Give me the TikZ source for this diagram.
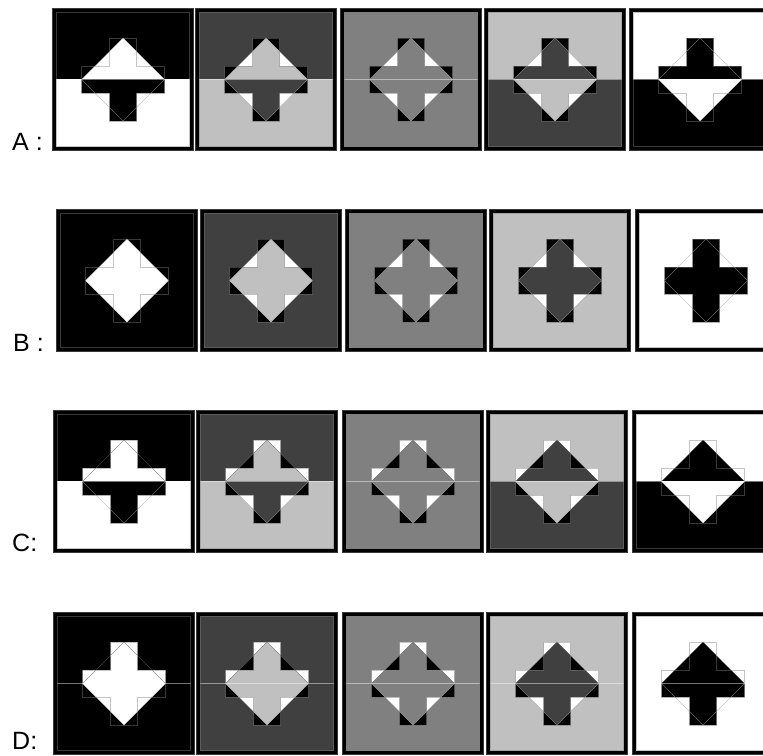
\documentclass[tikz,border=0pt]{standalone}
\usepackage{fontspec}
\setmainfont{Liberation Sans}
\definecolor{g0}{HTML}{000000}
\definecolor{g1}{HTML}{404040}
\definecolor{g2}{HTML}{808080}
\definecolor{g3}{HTML}{C0C0C0}
\definecolor{g4}{HTML}{FFFFFF}
\definecolor{outlc}{HTML}{808080}
\def\crosspath{(57.5,30) -- (84.5,30) -- (84.5,58) -- (112.5,58) -- (112.5,85) -- (84.5,85) -- (84.5,113) -- (57.5,113) -- (57.5,85) -- (29.5,85) -- (29.5,58) -- (57.5,58) -- cycle}
\def\diampath{(71,30) -- (112.5,71.5) -- (71,113) -- (29.5,71.5) -- cycle}
% one half of a panel: #1 x, #2 y, #3 0=top 1=bottom, #4 bg, #5 overlap, #6 tips, #7 concave
\newcommand{\halfpanel}[7]{%
  \begin{scope}[shift={(#1,#2)}]
    \clip (0,{#3*71.5}) rectangle (142,{71.5+#3*71.5});
    \fill[#4] (0,0) rectangle (142,143);
    \fill[#6] \crosspath;
    \fill[#7] \diampath;
    \begin{scope}
      \clip \crosspath;
      \fill[#5] \diampath;
    \end{scope}
  \end{scope}}
% outlines and frame: #1 x, #2 y, #3 midline flag
\newcommand{\pframe}[3]{%
  \begin{scope}[shift={(#1,#2)}]
    \draw[outl] \crosspath;
    \draw[outl] \diampath;
    \ifnum#3=1 \draw[midl] (4,71.5) -- (138,71.5);\fi
    \draw[black, line width=4pt] (2,2) rectangle (140,141);
    \draw[edgel] (0.3,0.3) rectangle (141.7,142.7);
    \draw[edgel] (4.3,4.3) rectangle (137.7,138.7);
  \end{scope}}
% full panel: #1 x, #2 y, #3 top bg, #4 top overlap, #5 bottom bg, #6 bottom overlap, #7 top tips, #8 top concave, #9 midline
\newcommand{\sq}[9]{%
  \halfpanel{#1}{#2}{0}{#3}{#4}{#7}{#8}
  \halfpanel{#1}{#2}{1}{#5}{#6}{black}{white}
  \pframe{#1}{#2}{#9}}
\begin{document}
\begin{tikzpicture}[x=1pt,y=-1pt,
  outl/.style={draw=outlc, draw opacity=0.45, line width=0.6pt},
  edgel/.style={draw=outlc, draw opacity=0.45, line width=0.7pt},
  midl/.style={draw=white, draw opacity=0.45, line width=0.7pt},
  lab/.style={anchor=base west, inner sep=0pt, font=\fontsize{25}{28}\selectfont}]
\useasboundingbox (0,0) rectangle (763,755);
\fill[white] (0,0) rectangle (763,755);
\clip (0,0) rectangle (763,755);
% Row A
\sq{52}{8}{g0}{g4}{g4}{g0}{black}{white}{1}
\sq{195}{8}{g1}{g3}{g3}{g1}{black}{white}{1}
\sq{340}{8}{g2}{g2}{g2}{g2}{black}{white}{1}
\sq{484}{8}{g3}{g1}{g1}{g3}{black}{white}{1}
\sq{629}{8}{g4}{g0}{g0}{g4}{black}{white}{1}
% Row B
\sq{56}{209}{g0}{g4}{g0}{g4}{black}{white}{0}
\sq{200}{209}{g1}{g3}{g1}{g3}{black}{white}{0}
\sq{345}{209}{g2}{g2}{g2}{g2}{black}{white}{0}
\sq{489}{209}{g3}{g1}{g3}{g1}{black}{white}{0}
\sq{635}{209}{g4}{g0}{g4}{g0}{black}{white}{0}
% Row C
\sq{53}{410}{g0}{g4}{g4}{g0}{white}{black}{1}
\sq{196}{410}{g1}{g3}{g3}{g1}{white}{black}{1}
\sq{342}{410}{g2}{g2}{g2}{g2}{white}{black}{1}
\sq{486}{410}{g3}{g1}{g1}{g3}{white}{black}{1}
\sq{632}{410}{g4}{g0}{g0}{g4}{white}{black}{1}
% Row D
\sq{53}{612}{g0}{g4}{g0}{g4}{white}{black}{1}
\sq{196}{612}{g1}{g3}{g1}{g3}{white}{black}{1}
\sq{342}{612}{g2}{g2}{g2}{g2}{white}{black}{1}
\sq{486}{612}{g3}{g1}{g3}{g1}{white}{black}{1}
\sq{632}{612}{g4}{g0}{g4}{g0}{white}{black}{1}
% Labels
\node[lab] (la) at (12,150) {A :};
\node[lab] (lb) at (13,351) {B :};
\node[lab] (lc) at (12,551) {C:};
\node[lab] (ld) at (12,749) {D:};
\end{tikzpicture}
\end{document}
